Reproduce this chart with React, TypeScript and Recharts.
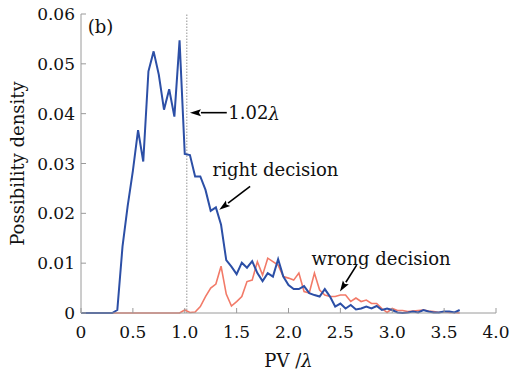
import React from "react";
import {
  LineChart,
  Line,
  XAxis,
  YAxis,
  ReferenceLine,
  ReferenceDot,
} from "recharts";

// PV / lambda, bin centres
const pvValues = [
  0, 0.05, 0.1, 0.15, 0.2, 0.25, 0.3, 0.35, 0.4, 0.45, 0.5, 0.55, 0.6, 0.65, 0.7, 0.75, 0.8, 0.85, 0.9, 0.95,
  1.0, 1.05, 1.1, 1.15, 1.2, 1.25, 1.3, 1.35, 1.4, 1.45, 1.5, 1.55, 1.6, 1.65, 1.7, 1.75, 1.8, 1.85, 1.9, 1.95,
  2.0, 2.05, 2.1, 2.15, 2.2, 2.25, 2.3, 2.35, 2.4, 2.45, 2.5, 2.55, 2.6, 2.65, 2.7, 2.75, 2.8, 2.85, 2.9, 2.95,
  3.0, 3.05, 3.1, 3.15, 3.2, 3.25, 3.3, 3.35, 3.4, 3.45, 3.5, 3.55, 3.6, 3.65,
];

const rightDecision = [
  0, 0, 0, 0, 0, 0, 0,
  0.0006, 0.0133, 0.0215, 0.0285, 0.0367, 0.0304, 0.0485, 0.0525, 0.0478, 0.0408, 0.0449, 0.0394, 0.0547,
  0.0319, 0.0317, 0.0274, 0.0274, 0.0247, 0.0205, 0.0212, 0.0177, 0.0106, 0.0093,
  0.0078, 0.0101, 0.0091, 0.0104, 0.008, 0.0064, 0.008, 0.0073, 0.0108, 0.0073,
  0.0056, 0.0048, 0.0048, 0.0054, 0.004, 0.0036, 0.0033, 0.0048, 0.0033, 0.0013,
  0.0019, 0.0009, 0.0016, 0.0007, 0.0009, 0.0013, 0.0009, 0.0014, 0.0006, 0.0009,
  0.0006, 0.0001, 0, 0.0001, 0.0003, 0.0001, 0.0006, 0.0003, 0.0001, 0.0001, 0.0003, 0.0003, 0.0001, 0.0006,
];

const wrongDecision = [
  0, 0, 0, 0, 0, 0, 0, 0, 0, 0, 0, 0, 0, 0, 0, 0, 0, 0, 0, 0,
  0.0006, 0.0001, 0.0002, 0.0013, 0.0033, 0.005, 0.0058, 0.0094, 0.0038, 0.0014,
  0.0023, 0.0033, 0.0063, 0.0066, 0.0103, 0.0076, 0.011, 0.0103, 0.0096, 0.0073,
  0.007, 0.0066, 0.008, 0.0043, 0.004, 0.008, 0.0046, 0.0036, 0.0033, 0.0033,
  0.0036, 0.0036, 0.0023, 0.003, 0.0023, 0.0026, 0.0019, 0.0019, 0.0009, 0.0001,
  0.0009, 0.0005, 0.0005, 0.0003, 0.0004, 0.0005, 0.0006, 0.0004, 0.0003, 0.0001, 0.0003, 0.0001, 0.0001, 0,
];

const xTicks = [0, 0.5, 1, 1.5, 2, 2.5, 3, 3.5, 4];
const yTicks = [0, 0.01, 0.02, 0.03, 0.04, 0.05, 0.06];
const thresholdPV = 1.02;

const data = pvValues.map((pv, i) => ({
  pv,
  right: rightDecision[i],
  wrong: wrongDecision[i],
}));

const FONT = "'DejaVu Serif', serif";
const BLUE = "#2c4fa6";
const RED = "#f27a68";
const FRAME = "#9a9a9a";

function Arrow(props: any) {
  const { x1, y1, x2, y2 } = props;
  if ([x1, y1, x2, y2].some((v) => typeof v !== "number")) return null;
  const ang = Math.atan2(y2 - y1, x2 - x1);
  const len = 11;
  const half = 3.5;
  const bx = x2 - len * Math.cos(ang);
  const by = y2 - len * Math.sin(ang);
  const px = -Math.sin(ang) * half;
  const py = Math.cos(ang) * half;
  return (
    <g>
      <line x1={x1} y1={y1} x2={bx} y2={by} stroke="#000" strokeWidth={1.6} />
      <polygon
        points={`${x2},${y2} ${bx + px},${by + py} ${bx + 2 * Math.cos(ang)},${by + 2 * Math.sin(ang)} ${bx - px},${by - py}`}
        fill="#000"
      />
    </g>
  );
}

function note(content: React.ReactNode, size = 18) {
  return (p: any) => (
    <text x={p.cx} y={p.cy} fontFamily={FONT} fontSize={size} fill="#111" dominantBaseline="central">
      {content}
    </text>
  );
}

export default function App() {
  return (
    <div style={{ position: "absolute", left: 0, top: 0, width: 518, height: 370, background: "#fff" }}>
      <LineChart width={518} height={370} data={data} margin={{ top: 14, right: 22, bottom: 17, left: 21 }}>
        <XAxis
          dataKey="pv"
          type="number"
          domain={[0, 4]}
          ticks={xTicks}
          height={40}
          tickSize={-5}
          tickMargin={18}
          stroke={FRAME}
          tickFormatter={(v: number) => (v === 0 ? "0" : v.toFixed(1))}
          tick={{ fill: "#111", fontSize: 17, fontFamily: FONT }}
          label={(p: any) => (
            <text
              x={p.viewBox.x + p.viewBox.width / 2}
              y={p.viewBox.y + 54}
              textAnchor="middle"
              fontFamily={FONT}
              fontSize={18}
              fill="#111"
            >
              PV /<tspan fontStyle="italic">λ</tspan>
            </text>
          )}
        />
        <YAxis
          type="number"
          domain={[0, 0.06]}
          ticks={yTicks}
          width={60}
          tickSize={-5}
          tickMargin={11}
          stroke={FRAME}
          tickFormatter={(v: number) => (v === 0 ? "0" : v.toFixed(2))}
          tick={{ fill: "#111", fontSize: 17, fontFamily: FONT }}
          label={(p: any) => (
            <text
              x={17}
              y={p.viewBox.y + p.viewBox.height / 2}
              transform={`rotate(-90, 17, ${p.viewBox.y + p.viewBox.height / 2})`}
              textAnchor="middle"
              dominantBaseline="central"
              fontFamily={FONT}
              fontSize={18}
              fill="#111"
            >
              Possibility density
            </text>
          )}
        />
        <XAxis xAxisId="top" orientation="top" dataKey="pv" type="number" domain={[0, 4]} ticks={xTicks} height={0} tick={false} tickLine={false} stroke={FRAME} />
        <YAxis yAxisId="right" orientation="right" domain={[0, 0.06]} width={0} tick={false} tickLine={false} stroke={FRAME} />
        <ReferenceLine x={thresholdPV} stroke="#777" strokeWidth={0.8} strokeDasharray="1.5 1.5" />
        <Line dataKey="wrong" stroke={RED} strokeWidth={1.6} dot={false} isAnimationActive={false} />
        <Line dataKey="right" stroke={BLUE} strokeWidth={2} dot={false} isAnimationActive={false} />
        <ReferenceLine segment={[{ x: 1.405, y: 0.0402 }, { x: 1.05, y: 0.0402 }]} shape={Arrow} />
        <ReferenceLine segment={[{ x: 1.63, y: 0.0254 }, { x: 1.333, y: 0.0207 }]} shape={Arrow} />
        <ReferenceLine segment={[{ x: 2.657, y: 0.0096 }, { x: 2.496, y: 0.0043 }]} shape={Arrow} />
        <ReferenceDot x={0.065} y={0.0574} r={0} shape={note("(b)")} />
        <ReferenceDot
          x={1.42}
          y={0.0402}
          r={0}
          shape={note(
            <>
              1.02<tspan fontStyle="italic">λ</tspan>
            </>
          )}
        />
        <ReferenceDot x={1.268} y={0.0287} r={0} shape={note("right decision")} />
        <ReferenceDot x={2.222} y={0.011} r={0} shape={note("wrong decision")} />
      </LineChart>
    </div>
  );
}
